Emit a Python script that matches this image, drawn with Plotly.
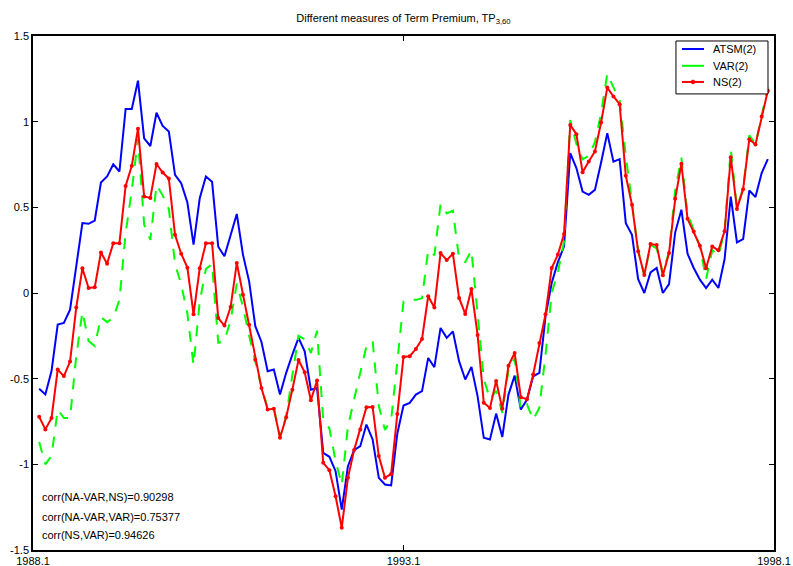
import plotly.graph_objects as go

# Monthly observations, 1988.2 .. 1997.12 (month index 1..119, 0 = 1988.1)
months = list(range(1, 120))

atsm = [
    -0.559, -0.592, -0.456, -0.184, -0.175, -0.097, 0.155, 0.408, 0.404, 0.423,
    0.645, 0.680, 0.751, 0.709, 1.074, 1.074, 1.239, 0.903, 0.858, 1.052,
    0.975, 0.942, 0.689, 0.641, 0.528, 0.282, 0.553, 0.680, 0.649, 0.270,
    0.214, 0.334, 0.461, 0.224, 0.068, -0.194, -0.286, -0.457, -0.447, -0.593,
    -0.466, -0.360, -0.262, -0.340, -0.564, -0.554, -0.933, -0.956, -1.040, -1.264,
    -1.011, -0.917, -0.894, -0.768, -0.855, -1.079, -1.118, -1.123, -0.820, -0.657,
    -0.641, -0.593, -0.573, -0.379, -0.433, -0.204, -0.262, -0.224, -0.398, -0.505,
    -0.431, -0.603, -0.845, -0.855, -0.704, -0.840, -0.593, -0.482, -0.680, -0.622,
    -0.486, -0.466, -0.136, 0.058, 0.180, 0.272, 0.816, 0.729, 0.592, 0.573,
    0.602, 0.762, 0.933, 0.767, 0.781, 0.408, 0.340, 0.081, 0.000, 0.120,
    0.146, 0.000, 0.052, 0.354, 0.486, 0.229, 0.146, 0.078, 0.029, 0.078,
    0.029, 0.198, 0.563, 0.295, 0.315, 0.598, 0.560, 0.700, 0.781,
]

var2 = [
    -0.87, -1.00, -0.95, -0.68, -0.73, -0.73, -0.37, -0.11, -0.28, -0.31,
    -0.14, -0.17, -0.145, -0.04, 0.35, 0.60, 0.90, 0.40, 0.31, 0.63,
    0.57, 0.49, 0.17, 0.05, -0.12, -0.42, -0.05, 0.14, 0.17, -0.29,
    -0.28, -0.16, 0.055, -0.08, -0.25, -0.40, -0.55, -0.67, -0.67, -0.84,
    -0.72, -0.48, -0.25, -0.27, -0.35, -0.22, -0.74, -0.79, -0.98, -1.12,
    -0.78, -0.62, -0.47, -0.31, -0.28, -0.66, -0.80, -0.74, -0.40, -0.05,
    -0.04, -0.04, -0.03, 0.25, 0.22, 0.52, 0.465, 0.48, 0.20, 0.18,
    0.25, -0.11, -0.50, -0.62, -0.57, -0.70, -0.45, -0.38, -0.68, -0.65,
    -0.74, -0.67, -0.36, 0.00, 0.12, 0.30, 1.01, 0.87, 0.78, 0.80,
    0.88, 1.05, 1.28, 1.20, 1.13, 0.80, 0.52, 0.25, 0.10, 0.28,
    0.26, 0.12, 0.24, 0.60, 0.79, 0.46, 0.37, 0.27, 0.08, 0.25,
    0.22, 0.36, 0.84, 0.50, 0.61, 0.92, 0.87, 1.04, 1.20,
]

ns = [
    -0.722, -0.796, -0.730, -0.447, -0.485, -0.400, -0.085, 0.144, 0.029, 0.033,
    0.237, 0.171, 0.291, 0.291, 0.625, 0.742, 0.959, 0.563, 0.555, 0.753,
    0.703, 0.668, 0.340, 0.229, 0.148, -0.124, 0.144, 0.291, 0.291, -0.146,
    -0.190, -0.082, 0.175, -0.010, -0.185, -0.389, -0.554, -0.680, -0.676, -0.845,
    -0.725, -0.564, -0.391, -0.463, -0.626, -0.511, -0.991, -1.034, -1.186, -1.370,
    -1.079, -0.917, -0.797, -0.667, -0.665, -0.952, -1.079, -1.056, -0.706, -0.373,
    -0.369, -0.327, -0.268, -0.019, -0.084, 0.233, 0.192, 0.229, -0.029, -0.122,
    0.023, -0.245, -0.641, -0.671, -0.513, -0.676, -0.424, -0.350, -0.608, -0.620,
    -0.476, -0.292, -0.124, 0.146, 0.224, 0.344, 0.981, 0.927, 0.705, 0.767,
    0.826, 0.995, 1.199, 1.147, 1.102, 0.684, 0.515, 0.243, 0.105, 0.286,
    0.280, 0.103, 0.233, 0.550, 0.754, 0.433, 0.359, 0.276, 0.144, 0.272,
    0.249, 0.361, 0.793, 0.491, 0.606, 0.898, 0.867, 1.030, 1.180,
]

x_tick_vals = [0, 60, 120]
x_tick_text = ["1988.1", "1993.1", "1998.1"]
y_tick_vals = [-1.5, -1, -0.5, 0, 0.5, 1, 1.5]
y_tick_text = ["-1.5", "-1", "-0.5", "0", "0.5", "1", "1.5"]

corr_lines = [
    "corr(NA-VAR,NS)=0.90298",
    "corr(NA-VAR,VAR)=0.75377",
    "corr(NS,VAR)=0.94626",
]

FONT = "Liberation Sans, Arial, sans-serif"
BLUE, GREEN, RED = "#0000FF", "#00FF00", "#FF0000"
VAR_DASH = "11px,10px"

series = [
    ("ATSM(2)", atsm, BLUE, "solid", False),
    ("VAR(2)", var2, GREEN, VAR_DASH, False),
    ("NS(2)", ns, RED, "solid", True),
]

fig = go.Figure()
for name, vals, color, dash, dots in series:
    fig.add_trace(go.Scatter(
        x=months, y=vals, name=name,
        mode="lines+markers" if dots else "lines",
        line=dict(color=color, width=2, dash=dash),
        marker=dict(color=color, size=4),
        showlegend=False,
    ))

# correlation notes in the lower-left corner
for txt, yy in zip(corr_lines, [0.104, 0.064, 0.030]):
    fig.add_annotation(
        text=txt, x=0.009, y=yy, xref="paper", yref="paper",
        xanchor="left", yanchor="middle", showarrow=False,
        font=dict(family=FONT, size=11, color="black"),
    )

# boxed key in the upper-right corner
key_left, key_right = 0.8677, 0.9919
key_bottom, key_top = 0.8873, 0.9903
sample_x0, sample_x1, label_x = 0.8758, 0.9055, 0.9150
row_y = [0.9747, 0.9420, 0.9106]
fig.add_shape(type="rect", xref="paper", yref="paper",
              x0=key_left, x1=key_right, y0=key_bottom, y1=key_top,
              line=dict(color="black", width=1), fillcolor="white", layer="above")
for (name, _, color, dash, dots), yy in zip(series, row_y):
    fig.add_shape(type="line", xref="paper", yref="paper",
                  x0=sample_x0, x1=sample_x1, y0=yy, y1=yy,
                  line=dict(color=color, width=2), layer="above")
    if dots:
        xm = (sample_x0 + sample_x1) / 2
        fig.add_shape(type="circle", xref="paper", yref="paper",
                      x0=xm - 0.0025, x1=xm + 0.0025, y0=yy - 0.0035, y1=yy + 0.0035,
                      line=dict(color=color, width=1), fillcolor=color, layer="above")
    fig.add_annotation(
        text=name, x=label_x, y=yy, xref="paper", yref="paper",
        xanchor="left", yanchor="middle", showarrow=False,
        font=dict(family=FONT, size=11, color="black"),
    )

fig.update_layout(
    template="none",
    width=793, height=566,
    margin=dict(l=33, r=19, t=36, b=16, pad=0),
    paper_bgcolor="white", plot_bgcolor="white",
    font=dict(family=FONT, size=11, color="black"),
    title=dict(
        text="Different measures of Term Premium, TP<sub>3,60</sub>",
        x=0.5, xref="paper", xanchor="center",
        y=0.968, yref="container", yanchor="middle",
        font=dict(family=FONT, size=11, color="black"),
    ),
    showlegend=False,
    xaxis=dict(
        range=[0, 120], tickmode="array", tickvals=x_tick_vals, ticktext=x_tick_text,
        ticks="inside", ticklen=5, tickcolor="black", tickwidth=1,
        showline=True, linecolor="black", linewidth=1.5, mirror="ticks",
        showgrid=False, zeroline=False, automargin=False,
        tickfont=dict(family=FONT, size=11, color="black"),
    ),
    yaxis=dict(
        range=[-1.5, 1.5], tickmode="array", tickvals=y_tick_vals, ticktext=y_tick_text,
        ticks="inside", ticklen=5, tickcolor="black", tickwidth=1,
        showline=True, linecolor="black", linewidth=1.5, mirror="ticks",
        showgrid=False, zeroline=False, automargin=False,
        tickfont=dict(family=FONT, size=11, color="black"),
    ),
)

fig.write_html("out.html")
